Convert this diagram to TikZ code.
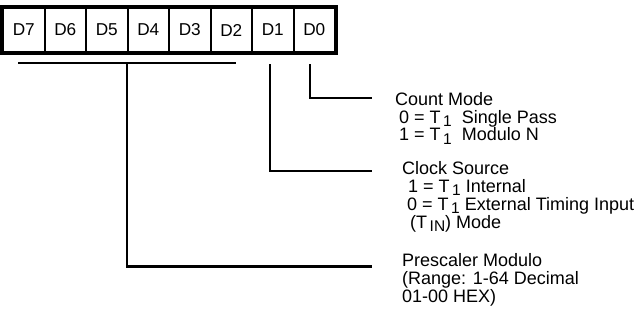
\documentclass[tikz,border=0pt]{standalone}
\usepackage{fontspec}
\setmainfont{Liberation Sans}
\usetikzlibrary{positioning}

\newcommand{\Tsub}[1]{T\kern2.5pt\lower.42ex\hbox{\fontsize{15.5}{15.5}\selectfont #1}}

\begin{document}
\begin{tikzpicture}[line cap=butt,line join=miter,x=1pt,y=-1pt,
  cell/.style={draw,line width=2pt,minimum width=41.5pt,minimum height=44pt,inner sep=0pt,font=\fontsize{17.2}{18}\selectfont},
  txt/.style={anchor=base west,inner sep=0pt,font=\fontsize{18}{20}\selectfont},
  lead/.style={line width=2.8pt}]
\useasboundingbox (0,0) rectangle (640,322);
% register bits
\foreach \b [count=\i from 0] in {7,6,5,4,3,2,1,0}
\node[cell] (d\b) at (23.75+41.5*\i,30) {D\b};
\draw[line width=3.6pt] (d7.north west) rectangle (d0.south east);
% descriptions
\node[txt] (cntmode) at (395,105) {Count Mode};
\node[txt] (cntsgl) at (399,123) {0 = \Tsub{1}\ \ Single Pass};
\node[txt] (cntmod) at (399,140.5) {1 = \Tsub{1}\ \ Modulo N};
\node[txt] (clksrc) at (402,174) {Clock Source};
\node[txt] (clkint) at (408,192) {1 = \Tsub{1} Internal};
\node[txt] (clkext) at (407,210) {0 = \Tsub{1} External Timing Input};
\node[txt] (clktin) at (410,228) {(\Tsub{IN}) Mode};
\node[txt] (prescaler) at (402,266) {Prescaler Modulo};
\node[txt] (prerange) at (402,284) {(Range: 1-64 Decimal};
\node[txt] (prehex) at (402,302) {01-00 HEX)};
% leader lines
\coordinate (brl) at (18,63);
\coordinate (brr) at (236,63);
\coordinate (brm) at (127,63);
\coordinate (bit1) at (270,64);
\coordinate (bit0) at (310,64);
\coordinate (end0) at (372,98);
\coordinate (end1) at (372,171);
\coordinate (end2) at (372,266.5);
\draw[lead] (brl) -- (brr);
\draw[lead] (brm) |- (end2);
\draw[lead] (bit1) |- (end1);
\draw[lead] (bit0) |- (end0);
\end{tikzpicture}
\end{document}
